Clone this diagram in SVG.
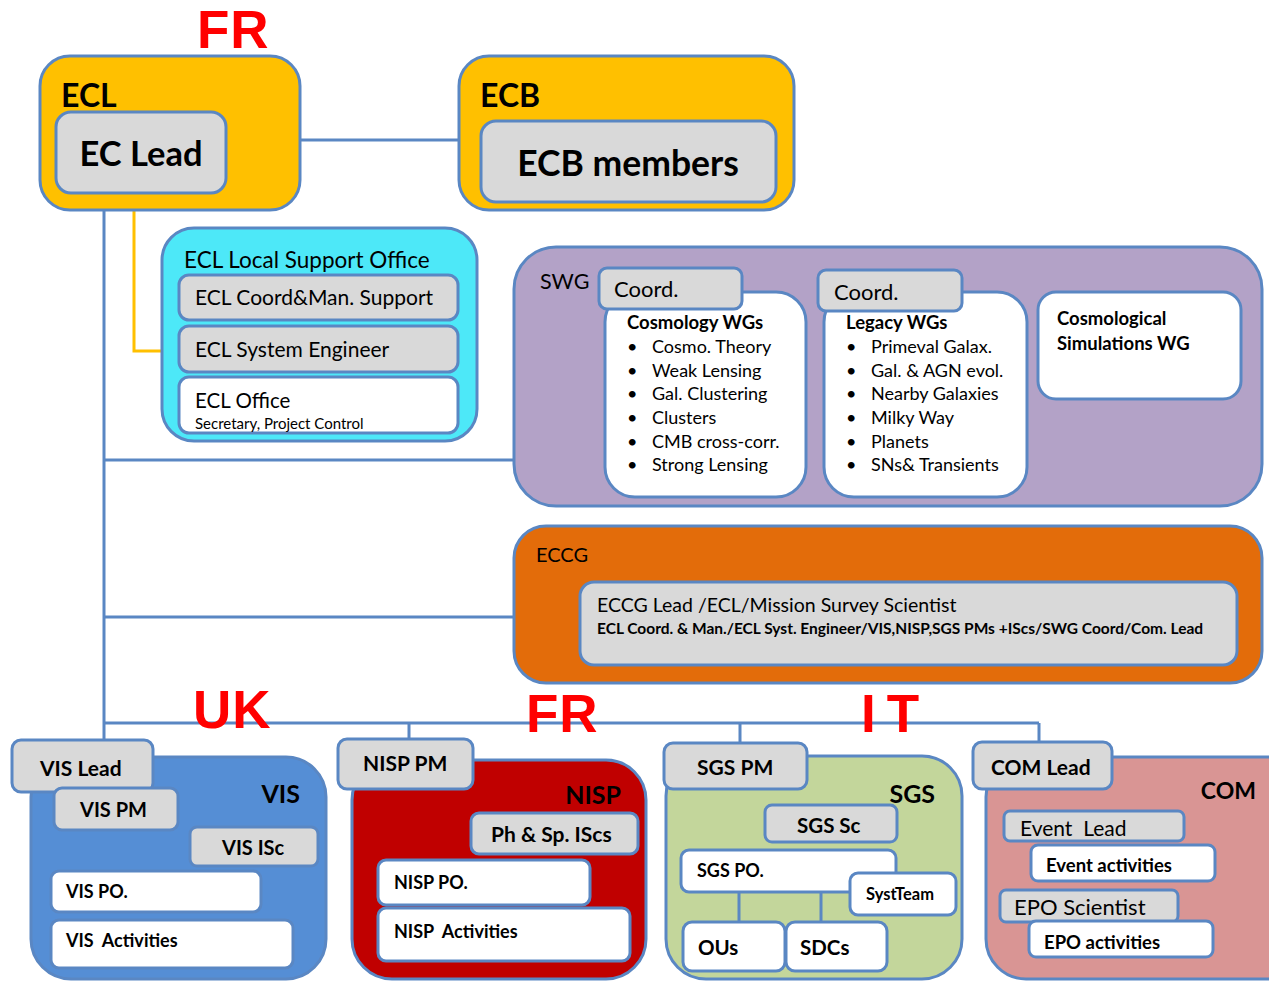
<svg xmlns="http://www.w3.org/2000/svg" width="1269" height="981" viewBox="0 0 1269 981">
<style>
text{font-family:Lato,"Noto Sans","Liberation Sans",sans-serif;fill:#000}
.b{font-weight:bold}
.s{stroke:#5a87c3;stroke-width:3}
.g{fill:#d9d9d9;stroke:#5a87c3;stroke-width:3}
.w{fill:#fff;stroke:#5a87c3;stroke-width:3}
.red{fill:#ff0000;font-family:"Liberation Sans",Arial,sans-serif;font-weight:bold;font-size:53px;letter-spacing:1px}
.li{fill:#404040;font-size:18px}
.line{stroke:#5a87c3;stroke-width:3;fill:none}
</style>
<rect width="1269" height="981" fill="#fff"/>
<g id="connectors">
<path class="line" d="M104 210V723M300 140H459M104 460H514M104 617H514M104 723H1039M104 723V740M409 723V739M740 723V743M1039 723V742"/>
<path d="M134 210V351H162" stroke="#ffc000" stroke-width="3" fill="none"/>
</g>
<text class="red" x="197" y="48">FR</text>
<text class="red" x="193" y="728">UK</text>
<text class="red" x="526" y="732">FR</text>
<text class="red" x="861" y="732"><tspan>I</tspan><tspan dx="10">T</tspan></text>
<g id="ecl">
<rect x="40" y="56" width="260" height="154" rx="30" fill="#ffc000" class="s"/>
<text class="b" x="61" y="107" font-size="32">ECL</text>
<rect x="56" y="112" width="170" height="81" rx="15" class="g"/>
<text class="b" x="141" y="166" font-size="34.5" text-anchor="middle">EC Lead</text>
</g>
<g id="ecb">
<rect x="459" y="56" width="335" height="154" rx="30" fill="#ffc000" class="s"/>
<text class="b" x="480" y="107" font-size="32">ECB</text>
<rect x="481" y="121" width="295" height="81" rx="15" class="g"/>
<text class="b" x="628" y="176" font-size="35.5" text-anchor="middle">ECB members</text>
</g>
<g id="lso">
<rect x="162" y="228" width="315" height="213" rx="32" fill="#4de8f8" class="s"/>
<text x="184" y="268" font-size="22.5">ECL Local Support Office</text>
<rect x="179" y="275" width="279" height="45" rx="10" class="g"/>
<text x="195" y="305" font-size="21">ECL Coord&amp;Man. Support</text>
<rect x="179" y="326" width="279" height="46" rx="10" class="g"/>
<text x="195" y="357" font-size="21">ECL System Engineer</text>
<rect x="179" y="377" width="279" height="56" rx="10" class="w"/>
<text x="195" y="408" font-size="20.5">ECL Office</text>
<text x="195" y="429" font-size="15">Secretary, Project Control</text>
</g>
<g id="swg">
<rect x="514" y="247" width="748" height="259" rx="42" fill="#b3a2c7" class="s"/>
<text x="540" y="289" font-size="21.5">SWG</text>
<rect x="605" y="292" width="201" height="205" rx="30" class="w"/>
<rect x="599" y="268" width="143" height="41" rx="8" class="g"/>
<text x="614" y="297" font-size="22">Coord.</text>
<text x="627" y="329" font-size="18.5" class="b">Cosmology WGs</text>
<g class="li">
<text x="627" y="353">•</text><text x="652" y="353">Cosmo. Theory</text>
<text x="627" y="377">•</text><text x="652" y="377">Weak Lensing</text>
<text x="627" y="400">•</text><text x="652" y="400">Gal. Clustering</text>
<text x="627" y="424">•</text><text x="652" y="424">Clusters</text>
<text x="627" y="448">•</text><text x="652" y="448">CMB cross-corr.</text>
<text x="627" y="471">•</text><text x="652" y="471">Strong Lensing</text>
</g>
<rect x="824" y="292" width="203" height="205" rx="30" class="w"/>
<rect x="818" y="270" width="144" height="41" rx="8" class="g"/>
<text x="834" y="300" font-size="22">Coord.</text>
<text x="846" y="329" font-size="18.5" class="b">Legacy WGs</text>
<g class="li">
<text x="846" y="353">•</text><text x="871" y="353">Primeval Galax.</text>
<text x="846" y="377">•</text><text x="871" y="377">Gal. &amp; AGN evol.</text>
<text x="846" y="400">•</text><text x="871" y="400">Nearby Galaxies</text>
<text x="846" y="424">•</text><text x="871" y="424">Milky Way</text>
<text x="846" y="448">•</text><text x="871" y="448">Planets</text>
<text x="846" y="471">•</text><text x="871" y="471">SNs&amp; Transients</text>
</g>
<rect x="1038" y="292" width="203" height="107" rx="18" class="w"/>
<text x="1057" y="325" font-size="18.5" class="b">Cosmological</text>
<text x="1057" y="350" font-size="18.5" class="b">Simulations WG</text>
</g>
<g id="eccg">
<rect x="514" y="526" width="748" height="157" rx="32" fill="#e36c0a" class="s"/>
<text x="536" y="562" font-size="20">ECCG</text>
<rect x="580" y="582" width="657" height="83" rx="14" class="g"/>
<text x="597" y="612" font-size="19.5">ECCG Lead /ECL/Mission Survey Scientist</text>
<text x="597" y="634" font-size="15.5" class="b">ECL Coord. &amp; Man./ECL Syst. Engineer/VIS,NISP,SGS PMs +IScs/SWG Coord/Com. Lead</text>
</g>
<g id="vis">
<rect x="31" y="757" width="295" height="222" rx="40" fill="#558ed5" class="s"/>
<rect x="12" y="740" width="141" height="52" rx="9" class="g"/>
<text x="40" y="776" font-size="21" class="b">VIS Lead</text>
<text class="b" x="300" y="803" font-size="25" text-anchor="end">VIS</text>
<rect x="54" y="788" width="124" height="42" rx="8" class="g"/>
<text x="80" y="817" font-size="20" class="b">VIS PM</text>
<rect x="190" y="827" width="128" height="39" rx="7" class="g"/>
<text x="222" y="855" font-size="20" class="b">VIS ISc</text>
<rect x="51" y="871" width="210" height="41" rx="8" class="w"/>
<text x="66" y="898" font-size="18" class="b">VIS PO.</text>
<rect x="51" y="920" width="242" height="48" rx="8" class="w"/>
<text x="66" y="947" font-size="18" class="b">VIS&#160; Activities</text>
</g>
<g id="nisp">
<rect x="352" y="760" width="294" height="219" rx="40" fill="#c00000" class="s"/>
<rect x="338" y="739" width="135" height="50" rx="9" class="g"/>
<text x="363" y="771" font-size="21" class="b">NISP PM</text>
<text class="b" x="621" y="804" font-size="25" text-anchor="end">NISP</text>
<rect x="471" y="813" width="167" height="41" rx="8" class="g"/>
<text x="491" y="842" font-size="21" class="b">Ph &amp; Sp. IScs</text>
<rect x="378" y="860" width="212" height="45" rx="8" class="w"/>
<text x="394" y="889" font-size="18" class="b">NISP PO.</text>
<rect x="378" y="908" width="252" height="53" rx="8" class="w"/>
<text x="394" y="938" font-size="18" class="b">NISP&#160; Activities</text>
</g>
<g id="sgs">
<rect x="666" y="756" width="296" height="223" rx="40" fill="#c3d69b" class="s"/>
<rect x="664" y="743" width="143" height="46" rx="9" class="g"/>
<text x="697" y="775" font-size="21" class="b">SGS PM</text>
<text class="b" x="935" y="803" font-size="25" text-anchor="end">SGS</text>
<rect x="765" y="805" width="132" height="37" rx="7" class="g"/>
<text x="797" y="833" font-size="20.5" class="b">SGS Sc</text>
<path class="line" d="M739 892V922M821 892V922"/>
<rect x="681" y="850" width="215" height="42" rx="8" class="w"/>
<text x="697" y="877" font-size="18" class="b">SGS PO.</text>
<rect x="850" y="873" width="106" height="42" rx="8" class="w"/>
<text x="866" y="900" font-size="16.5" class="b">SystTeam</text>
<rect x="683" y="922" width="102" height="49" rx="9" class="w"/>
<text x="698" y="955" font-size="20.5" class="b">OUs</text>
<rect x="786" y="922" width="101" height="49" rx="9" class="w"/>
<text x="800" y="955" font-size="20.5" class="b">SDCs</text>
</g>
<g id="com">
<rect x="986" y="757" width="320" height="222" rx="40" fill="#d99594" class="s"/>
<rect x="973" y="742" width="139" height="47" rx="9" class="g"/>
<text x="991" y="775" font-size="21" class="b">COM Lead</text>
<text class="b" x="1256" y="799" font-size="23" text-anchor="end">COM</text>
<rect x="1004" y="811" width="180" height="30" rx="6" class="g"/>
<text x="1020" y="836" font-size="21">Event&#160; Lead</text>
<rect x="1031" y="845" width="184" height="36" rx="7" class="w"/>
<text x="1046" y="872" font-size="18.5" class="b">Event activities</text>
<rect x="1000" y="890" width="178" height="32" rx="6" class="g"/>
<text x="1014" y="915" font-size="22">EPO Scientist</text>
<rect x="1029" y="921" width="184" height="36" rx="7" class="w"/>
<text x="1044" y="949" font-size="18.5" class="b">EPO activities</text>
</g>
</svg>
